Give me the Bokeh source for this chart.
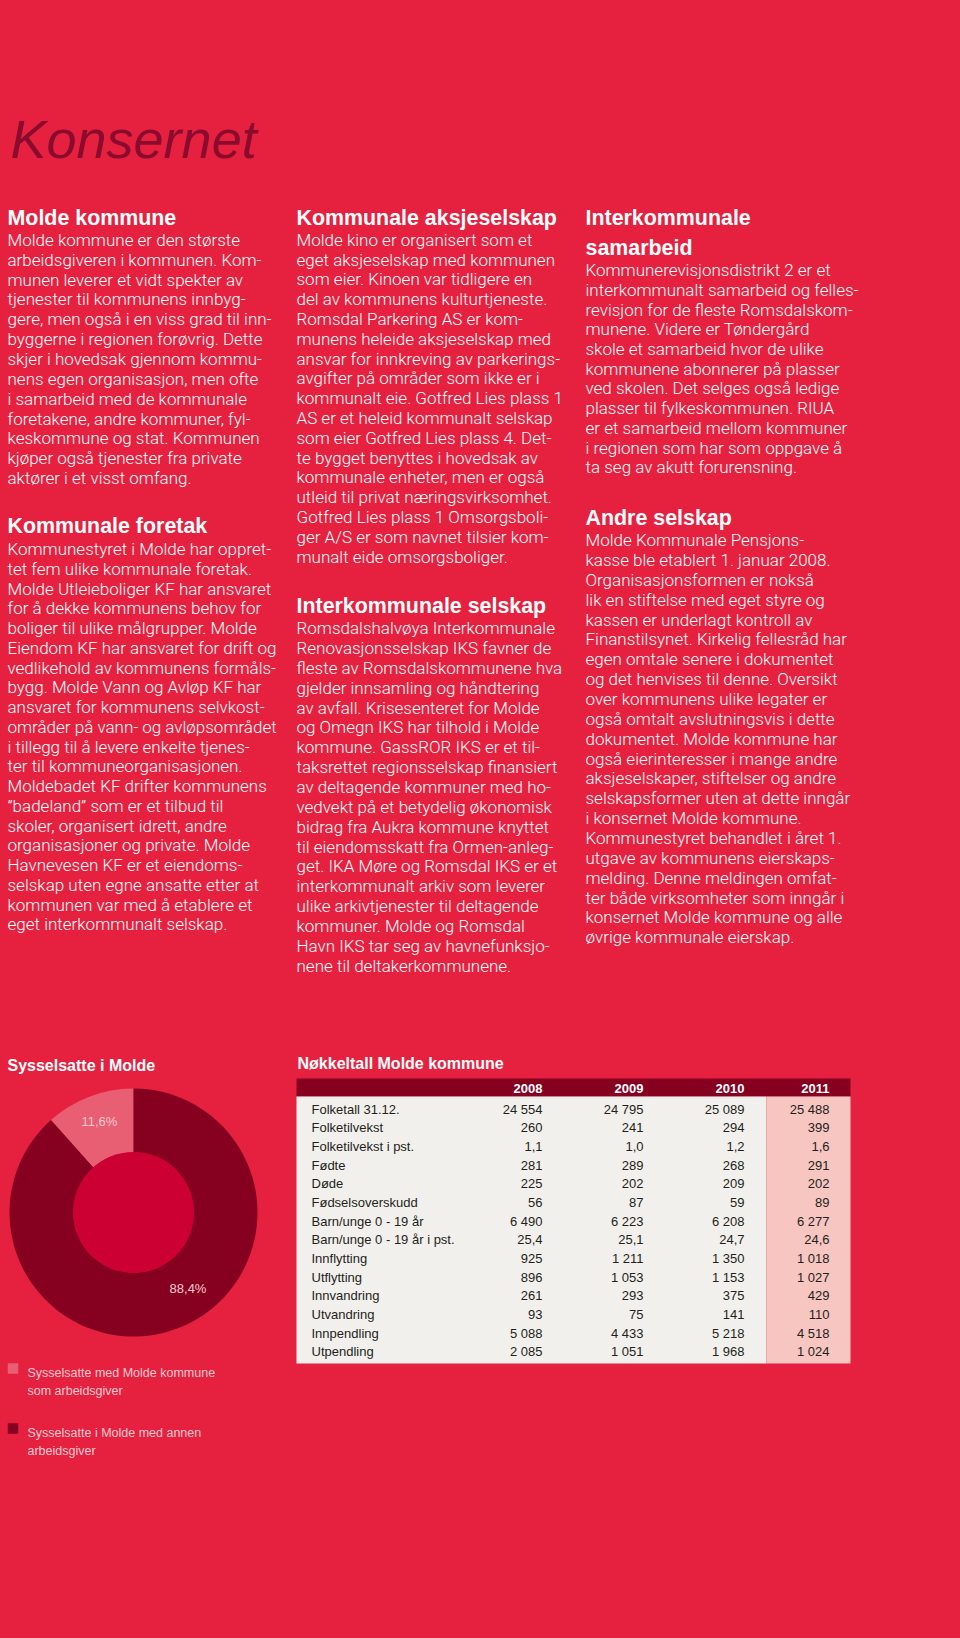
import math
from bokeh.plotting import figure
from bokeh.models import Range1d
from bokeh.core.properties import value
from bokeh.embed import file_html
from bokeh.resources import INLINE

# ---------------- colours ----------------
BG = "#E5213F"
DARK = "#86001F"
TITLE_COLOR = "#8A0B2E"
LIGHT_SEG = "#E85F73"
HOLE = "#CC0033"
PALE = "#F6CAD1"
TABLE_BG = "#F2F0EC"
TABLE_PINK = "#F7C6C0"
TABLE_TEXT = "#231F20"

# ---------------- texts ----------------
TITLE = "Konsernet"

HEAD_1A = "Molde kommune"
BODY_1A = [
    "Molde kommune er den største",
    "arbeidsgiveren i kommunen. Kom-",
    "munen leverer et vidt spekter av",
    "tjenester til kommunens innbyg-",
    "gere, men også i en viss grad til inn-",
    "byggerne i regionen forøvrig. Dette",
    "skjer i hovedsak gjennom kommu-",
    "nens egen organisasjon, men ofte",
    "i samarbeid med de kommunale",
    "foretakene, andre kommuner, fyl-",
    "keskommune og stat. Kommunen",
    "kjøper også tjenester fra private",
    "aktører i et visst omfang.",
]
HEAD_1B = "Kommunale foretak"
BODY_1B = [
    "Kommunestyret i Molde har oppret-",
    "tet fem ulike kommunale foretak.",
    "Molde Utleieboliger KF har ansvaret",
    "for å dekke kommunens behov for",
    "boliger til ulike målgrupper. Molde",
    "Eiendom KF har ansvaret for drift og",
    "vedlikehold av kommunens formåls-",
    "bygg. Molde Vann og Avløp KF har",
    "ansvaret for kommunens selvkost-",
    "områder på vann- og avløpsområdet",
    "i tillegg til å levere enkelte tjenes-",
    "ter til kommuneorganisasjonen.",
    "Moldebadet KF drifter kommunens",
    "\u201dbadeland\u201d som er et tilbud til",
    "skoler, organisert idrett, andre",
    "organisasjoner og private. Molde",
    "Havnevesen KF er et eiendoms-",
    "selskap uten egne ansatte etter at",
    "kommunen var med å etablere et",
    "eget interkommunalt selskap.",
]
HEAD_2A = "Kommunale aksjeselskap"
BODY_2A = [
    "Molde kino er organisert som et",
    "eget aksjeselskap med kommunen",
    "som eier. Kinoen var tidligere en",
    "del av kommunens kulturtjeneste.",
    "Romsdal Parkering AS er kom-",
    "munens heleide aksjeselskap med",
    "ansvar for innkreving av parkerings-",
    "avgifter på områder som ikke er i",
    "kommunalt eie. Gotfred Lies plass 1",
    "AS er et heleid kommunalt selskap",
    "som eier Gotfred Lies plass 4. Det-",
    "te bygget benyttes i hovedsak av",
    "kommunale enheter, men er også",
    "utleid til privat næringsvirksomhet.",
    "Gotfred Lies plass 1 Omsorgsboli-",
    "ger A/S er som navnet tilsier kom-",
    "munalt eide omsorgsboliger.",
]
HEAD_2B = "Interkommunale selskap"
BODY_2B = [
    "Romsdalshalvøya Interkommunale",
    "Renovasjonsselskap IKS favner de",
    "fleste av Romsdalskommunene hva",
    "gjelder innsamling og håndtering",
    "av avfall. Krisesenteret for Molde",
    "og Omegn IKS har tilhold i Molde",
    "kommune. GassROR IKS er et til-",
    "taksrettet regionsselskap finansiert",
    "av deltagende kommuner med ho-",
    "vedvekt på et betydelig økonomisk",
    "bidrag fra Aukra kommune knyttet",
    "til eiendomsskatt fra Ormen-anleg-",
    "get. IKA Møre og Romsdal IKS er et",
    "interkommunalt arkiv som leverer",
    "ulike arkivtjenester til deltagende",
    "kommuner. Molde og Romsdal",
    "Havn IKS tar seg av havnefunksjo-",
    "nene til deltakerkommunene.",
]
HEAD_3A = ["Interkommunale", "samarbeid"]
BODY_3A = [
    "Kommunerevisjonsdistrikt 2 er et",
    "interkommunalt samarbeid og felles-",
    "revisjon for de fleste Romsdalskom-",
    "munene. Videre er Tøndergård",
    "skole et samarbeid hvor de ulike",
    "kommunene abonnerer på plasser",
    "ved skolen. Det selges også ledige",
    "plasser til fylkeskommunen. RIUA",
    "er et samarbeid mellom kommuner",
    "i regionen som har som oppgave å",
    "ta seg av akutt forurensning.",
]
HEAD_3B = "Andre selskap"
BODY_3B = [
    "Molde Kommunale Pensjons-",
    "kasse ble etablert 1. januar 2008.",
    "Organisasjonsformen er nokså",
    "lik en stiftelse med eget styre og",
    "kassen er underlagt kontroll av",
    "Finanstilsynet. Kirkelig fellesråd har",
    "egen omtale senere i dokumentet",
    "og det henvises til denne. Oversikt",
    "over kommunens ulike legater er",
    "også omtalt avslutningsvis i dette",
    "dokumentet. Molde kommune har",
    "også eierinteresser i mange andre",
    "aksjeselskaper, stiftelser og andre",
    "selskapsformer uten at dette inngår",
    "i konsernet Molde kommune.",
    "Kommunestyret behandlet i året 1.",
    "utgave av kommunens eierskaps-",
    "melding. Denne meldingen omfat-",
    "ter både virksomheter som inngår i",
    "konsernet Molde kommune og alle",
    "øvrige kommunale eierskap.",
]

# ---------------- donut data ----------------
DONUT_TITLE = "Sysselsatte i Molde"
donut_shares = [11.6, 88.4]
donut_labels = ["11,6%", "88,4%"]
donut_colors = [LIGHT_SEG, DARK]
legend_lines = [
    ["Sysselsatte med Molde kommune", "som arbeidsgiver"],
    ["Sysselsatte i Molde med annen", "arbeidsgiver"],
]

# ---------------- table data ----------------
TABLE_TITLE = "Nøkkeltall Molde kommune"
years = ["2008", "2009", "2010", "2011"]
row_labels = [
    "Folketall 31.12.", "Folketilvekst", "Folketilvekst i pst.", "Fødte", "Døde",
    "Fødselsoverskudd", "Barn/unge 0 - 19 år", "Barn/unge 0 - 19 år i pst.",
    "Innflytting", "Utflytting", "Innvandring", "Utvandring", "Innpendling", "Utpendling",
]
v2008 = [24554, 260, 1.1, 281, 225, 56, 6490, 25.4, 925, 896, 261, 93, 5088, 2085]
v2009 = [24795, 241, 1.0, 289, 202, 87, 6223, 25.1, 1211, 1053, 293, 75, 4433, 1051]
v2010 = [25089, 294, 1.2, 268, 209, 59, 6208, 24.7, 1350, 1153, 375, 141, 5218, 1968]
v2011 = [25488, 399, 1.6, 291, 202, 89, 6277, 24.6, 1018, 1027, 429, 110, 4518, 1024]


def fmt(v):
    if isinstance(v, float):
        return ("%.1f" % v).replace(".", ",")
    return "{:,}".format(v).replace(",", " ")


# ---------------- figure (data coordinates == page pixels) ----------------
W, H = 958, 1636
p = figure(width=W, height=H, x_range=Range1d(0, W), y_range=Range1d(H, 0),
           output_backend="svg", toolbar_location=None,
           x_axis_location=None, y_axis_location=None, min_border=0,
           background_fill_color=BG, border_fill_color=BG, outline_line_color=None)
p.grid.visible = False

FONT = "Liberation Sans"
BODY_FONT = "Roboto Light, Liberation Sans"
K = 0.37  # baseline correction (fraction of font size)


def add_text(xs, ys, texts, size, color, style="normal", align="left", font=FONT):
    ys = [y - K * size for y in ys]
    p.text(x=xs, y=ys, text=texts, text_font=value(font), text_font_size=value("%spx" % size),
           text_color=color, text_font_style=value(style), text_align=value(align),
           text_baseline=value("alphabetic"))


def add_block(x, y0, dy, lines, size=17, color="white"):
    add_text([x] * len(lines), [y0 + i * dy for i in range(len(lines))], lines, size, color,
             font=BODY_FONT)


# Title
add_text([10], [158], [TITLE], 54, TITLE_COLOR, style="italic")

HS = 21.4
# Column 1
add_text([7], [225], [HEAD_1A], HS, "white", "bold")
add_block(7, 245.7, 19.85, BODY_1A)
add_text([7], [533], [HEAD_1B], HS, "white", "bold")
add_block(7, 555, 19.75, BODY_1B)
# Column 2
add_text([296], [225], [HEAD_2A], HS, "white", "bold")
add_block(296, 245.5, 19.8, BODY_2A)
add_text([296], [613], [HEAD_2B], HS, "white", "bold")
add_block(296, 634, 19.85, BODY_2B)
# Column 3
add_text([585, 585], [225, 255], HEAD_3A, HS, "white", "bold")
add_block(585, 276, 19.7, BODY_3A)
add_text([585], [525], [HEAD_3B], HS, "white", "bold")
add_block(585, 546, 19.85, BODY_3B)

# ---------------- donut ----------------
cx, cy = 133, 1212
starts, ends = [], []
a = math.pi / 2
for s in donut_shares:
    starts.append(a)
    a += s / 100.0 * 2 * math.pi
    ends.append(a)
p.annular_wedge(x=[cx, cx], y=[cy, cy], inner_radius=60, outer_radius=124,
                start_angle=starts, end_angle=ends, fill_color=donut_colors, line_color=None)
p.circle(x=[cx], y=[cy], radius=60.5, fill_color=HOLE, line_color=None)

label_angles = [math.radians(111), math.radians(-55)]
label_r = 95
lx = [cx + label_r * math.cos(t) for t in label_angles]
ly = [cy - label_r * math.sin(t) - 2 for t in label_angles]
p.text(x=lx, y=ly, text=donut_labels, text_font=value(FONT), text_font_size=value("13px"),
       text_color=PALE, text_align=value("center"), text_baseline=value("middle"))

add_text([7], [1071], [DONUT_TITLE], 16, "white", "bold")
leg_y = [1368, 1428]
p.rect(x=[12.5, 12.5], y=leg_y, width=10.5, height=10.5, fill_color=donut_colors, line_color=None)
for i, lines in enumerate(legend_lines):
    add_text([27, 27], [leg_y[i] + 9, leg_y[i] + 27], lines, 12.5, PALE)

# ---------------- table ----------------
add_text([297], [1069], [TABLE_TITLE], 16, "white", "bold")
p.quad(left=[296], right=[850], top=[1078], bottom=[1096], fill_color=DARK, line_color=None)
p.quad(left=[296], right=[766], top=[1096], bottom=[1363], fill_color=TABLE_BG, line_color=None)
p.quad(left=[766], right=[850], top=[1096], bottom=[1363], fill_color=TABLE_PINK, line_color=None)

col_right = [542, 643, 744, 829]
add_text(col_right, [1092.7] * 4, years, 13, "white", "bold", align="right")

row_y = [1113.5 + i * 18.67 for i in range(len(row_labels))]
add_text([311] * len(row_labels), row_y, row_labels, 13, TABLE_TEXT)
for xr, vals in zip(col_right, [v2008, v2009, v2010, v2011]):
    add_text([xr] * len(vals), row_y, [fmt(v) for v in vals], 13, TABLE_TEXT, align="right")

STYLE = "<style>html, body { background-color: %s; }</style></head>" % BG
open("out.html", "w").write(file_html(p, INLINE).replace("</head>", STYLE, 1))
